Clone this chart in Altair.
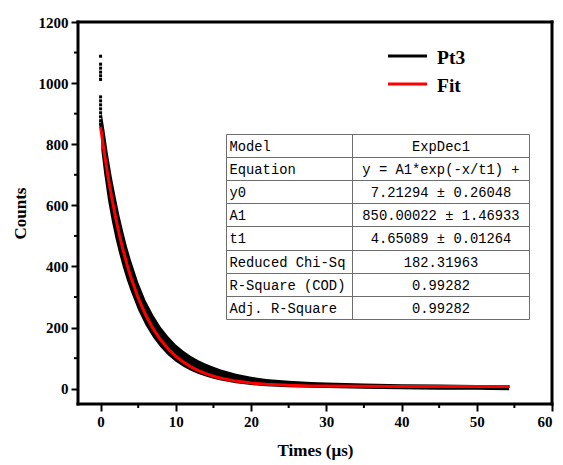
import altair as alt
import pandas as pd

# ---------------- data ----------------
# decay trace (Pt3): spread envelope of the measured points
band_x = [0.1, 0.5, 1, 1.5, 2, 2.5, 3, 3.5, 4, 5, 6, 7, 8, 9, 10, 11, 12, 13, 14, 15,
          16, 18, 20, 22, 25, 28, 30, 35, 40, 45, 50, 52, 54.3]
band_lo = [780, 700, 615, 548, 490, 440, 395, 355, 320, 257, 207, 167, 135, 109, 88, 72, 59,
           48, 40, 33, 27, 18, 12, 8, 5, 3, 2, 0, -2, -3, -3, -4, -5]
band_hi = [910, 848, 765, 692, 628, 568, 515, 466, 424, 348, 288, 241, 202, 171, 145, 124,
           107, 93, 82, 72, 63, 49, 39, 32, 26, 22, 20, 17, 15, 14, 12, 9, 5]

# isolated early points near t = 0
dots_x = [0, 0, 0, 0, 0, 0, 0, 0, 0, 0, 0, 0, 0, 0, 0.05]
dots_y = [1088, 1062, 1049, 1036, 1024, 1012, 955, 942, 929, 916, 903, 890, 877, 866, 858]

# fitted curve (Fit)
fit_x = [0, 0.5, 1, 1.5, 2, 2.5, 3, 3.5, 4, 5, 6, 7, 8, 9, 10, 11, 12, 13, 14, 15, 16,
         18, 20, 22, 25, 28, 30, 35, 40, 45, 50, 54.4]
fit_y = [857.2, 770.6, 692.7, 622.9, 560.1, 503.7, 453.1, 407.6, 366.8, 297.2, 241.1, 195.8,
         159.3, 129.9, 106.1, 87.0, 71.6, 59.2, 49.1, 41.0, 34.4, 24.9, 18.7, 14.7, 11.1, 9.3,
         8.5, 7.7, 7.3, 7.2, 7.2, 7.2]

x_ticks = [0, 10, 20, 30, 40, 50, 60]
x_minor = [5, 15, 25, 35, 45, 55]
y_ticks = [0, 200, 400, 600, 800, 1000, 1200]
y_minor = [100, 300, 500, 700, 900, 1100]

legend_names = ["Pt3", "Fit"]
legend_colors = ["black", "red"]

table_labels = ["Model", "Equation", "y0", "A1", "t1", "Reduced Chi-Sq",
                "R-Square (COD)", "Adj. R-Square"]
table_values = ["ExpDec1", "y = A1*exp(-x/t1) +", "7.21294 ± 0.26048",
                "850.00022 ± 1.46933", "4.65089 ± 0.01264", "182.31963",
                "0.99282", "0.99282"]

# ---------------- layout ----------------
W, H = 474, 382
SERIF = "Liberation Serif"
MONO = "Liberation Mono"

xs = alt.Scale(domain=[-3, 60], nice=False, zero=False)
ys = alt.Scale(domain=[-50, 1200], nice=False, zero=False)

xaxis = alt.Axis(values=x_ticks, title="Times (μs)", grid=False, tickSize=7, tickWidth=2,
                 domain=False, labelPadding=3, titlePadding=13, format="d")
yaxis = alt.Axis(values=y_ticks, title="Counts", grid=False, tickSize=7, tickWidth=2,
                 domain=False, labelPadding=3, titlePadding=9, format="d")

band_df = pd.DataFrame({"x": band_x, "lo": band_lo, "hi": band_hi})
dots_df = pd.DataFrame({"x": dots_x, "y": dots_y})
fit_df = pd.DataFrame({"x": fit_x, "y": fit_y})

band = alt.Chart(band_df).mark_area(color="black", opacity=1).encode(
    x=alt.X("x:Q", scale=xs, axis=xaxis),
    y=alt.Y("lo:Q", scale=ys, axis=yaxis),
    y2="hi:Q",
)
dots = alt.Chart(dots_df).mark_square(color="black", size=9, opacity=1).encode(
    x=alt.X("x:Q", scale=xs), y=alt.Y("y:Q", scale=ys)
)
fit = alt.Chart(fit_df).mark_line(color="red", strokeWidth=3).encode(
    x=alt.X("x:Q", scale=xs), y=alt.Y("y:Q", scale=ys)
)

xminor = alt.Chart(pd.DataFrame({"v": x_minor})).mark_rule(color="black", strokeWidth=2).encode(
    x=alt.X("v:Q", scale=xs), y=alt.value(H), y2=alt.value(H + 4)
)
yminor = alt.Chart(pd.DataFrame({"v": y_minor})).mark_rule(color="black", strokeWidth=2).encode(
    y=alt.Y("v:Q", scale=ys), x=alt.value(0), x2=alt.value(-4)
)

# frame
one = pd.DataFrame({"k": [0]})
fr = dict(color="black", strokeWidth=3, strokeCap="square")
frame = alt.layer(
    alt.Chart(one).mark_rule(**fr).encode(x=alt.value(0), x2=alt.value(W), y=alt.value(0)),
    alt.Chart(one).mark_rule(**fr).encode(x=alt.value(0), x2=alt.value(W), y=alt.value(H)),
    alt.Chart(one).mark_rule(**fr).encode(y=alt.value(0), y2=alt.value(H), x=alt.value(0)),
    alt.Chart(one).mark_rule(**fr).encode(y=alt.value(0), y2=alt.value(H), x=alt.value(W)),
)

# legend (manual)
leg_df = pd.DataFrame({"name": legend_names, "i": list(range(len(legend_names)))})
LEG_X0, LEG_X1, LEG_Y0, LEG_DY = 310, 349, 34, 28
leg_base = alt.Chart(leg_df).transform_calculate(
    py=f"{LEG_Y0} + datum.i * {LEG_DY}",
    pb=f"{LEG_Y0 + 8} + datum.i * {LEG_DY}",
)
leg_color = alt.Color("name:N", scale=alt.Scale(domain=legend_names, range=legend_colors),
                      legend=None)
leg_lines = leg_base.mark_rule(strokeWidth=3).encode(
    y=alt.Y("py:Q", scale=None), x=alt.value(LEG_X0), x2=alt.value(LEG_X1), color=leg_color
)
leg_text = leg_base.mark_text(align="left", baseline="alphabetic", font=SERIF,
                              fontWeight="bold", fontSize=19.5, color="black").encode(
    y=alt.Y("pb:Q", scale=None), x=alt.value(359), text="name:N"
)

# statistics table (manual)
T_L, T_M, T_R, T_TOP, T_RH = 148.5, 274.5, 451.5, 112.5, 23.1
n_rows = len(table_labels)
tab_df = pd.DataFrame({"label": table_labels, "value": table_values, "i": list(range(n_rows))})
tab_base = alt.Chart(tab_df).transform_calculate(
    pb=f"{T_TOP} + datum.i * {T_RH} + 16.5"
)
tab_lab = tab_base.mark_text(align="left", baseline="alphabetic", font=MONO, fontSize=13.8,
                             color="black").encode(
    y=alt.Y("pb:Q", scale=None), x=alt.value(T_L + 3), text="label:N"
)
tab_val = tab_base.mark_text(align="center", baseline="alphabetic", font=MONO, fontSize=13.8,
                             color="black").encode(
    y=alt.Y("pb:Q", scale=None), x=alt.value((T_M + T_R) / 2), text="value:N"
)
hl_df = pd.DataFrame({"i": list(range(n_rows + 1))})
tab_hlines = alt.Chart(hl_df).transform_calculate(
    py=f"{T_TOP} + round(datum.i * {T_RH})"
).mark_rule(color="#6e6e6e", strokeWidth=1).encode(
    y=alt.Y("py:Q", scale=None), x=alt.value(T_L), x2=alt.value(T_R)
)
vl_df = pd.DataFrame({"j": [0, 1, 2]})
tab_vlines = alt.Chart(vl_df).transform_calculate(
    px=f"datum.j == 0 ? {T_L} : (datum.j == 1 ? {T_M} : {T_R})"
).mark_rule(color="#6e6e6e", strokeWidth=1).encode(
    x=alt.X("px:Q", scale=None), y=alt.value(T_TOP), y2=alt.value(T_TOP + round(n_rows * T_RH))
)

chart = alt.layer(
    band, dots, fit, xminor, yminor, frame, leg_lines, leg_text,
    tab_hlines, tab_vlines, tab_lab, tab_val
).properties(
    width=W, height=H,
    autosize=alt.AutoSizeParams(type="none"),
    padding={"left": 78, "top": 22, "right": 11, "bottom": 61},
    background="white",
).configure_view(
    stroke=None
).configure_axis(
    labelFont=SERIF, labelFontWeight="bold", labelFontSize=15, labelColor="black",
    titleFont=SERIF, titleFontWeight="bold", titleFontSize=17, titleColor="black",
    tickColor="black",
)

chart.save("out.html", embed_options={"renderer": "svg", "actions": False})
